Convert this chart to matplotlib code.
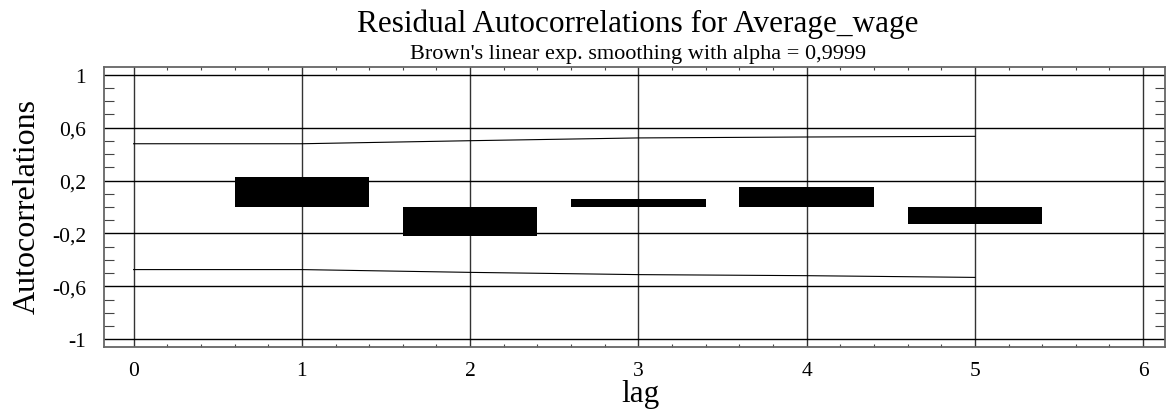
import matplotlib
matplotlib.use("Agg")
import matplotlib.pyplot as plt
from matplotlib.ticker import MultipleLocator, FixedLocator, FuncFormatter

lags = [1, 2, 3, 4, 5]
autocorr = [0.223, -0.218, 0.061, 0.154, -0.132]
limit_lags = [0, 1, 2, 3, 4, 5]
upper_limit = [0.478, 0.478, 0.501, 0.522, 0.529, 0.534]
lower_limit = [-0.473, -0.473, -0.494, -0.511, -0.519, -0.532]
ytick_vals = [-1, -0.6, -0.2, 0.2, 0.6, 1]
xtick_vals = [0, 1, 2, 3, 4, 5, 6]

plt.rcParams['font.family'] = ['Liberation Serif', 'DejaVu Serif']

fig = plt.figure(figsize=(11.66, 4.14), dpi=100)
W, H = 1166, 414
left, right, top, bottom = 104, 1165, 68, 348
ax = fig.add_axes([left / W, 1 - bottom / H, (right - left) / W, (bottom - top) / H])

ax.bar(lags, autocorr, width=0.8, color='black', zorder=3)
ax.plot(limit_lags, upper_limit, color='black', lw=0.8, zorder=2)
ax.plot(limit_lags, lower_limit, color='black', lw=0.8, zorder=2)

ax.set_xlim(-0.176, 6.13)
ax.set_ylim(-1.058, 1.058)

ax.yaxis.set_major_locator(FixedLocator(ytick_vals))
ax.yaxis.set_minor_locator(MultipleLocator(0.1))
ax.xaxis.set_major_locator(FixedLocator(xtick_vals))
ax.xaxis.set_minor_locator(MultipleLocator(0.2))

def fmt(v, pos):
    return ('%g' % round(v, 3)).replace('.', ',')
ax.yaxis.set_major_formatter(FuncFormatter(fmt))

ax.grid(True, which='major', axis='y', color='black', lw=1.0, zorder=1)
ax.grid(True, which='major', axis='x', color='#333333', lw=1.0, zorder=1)
ax.tick_params(which='both', direction='in', top=True, right=True, color='#444444')
ax.tick_params(which='major', length=0, labelsize=15.5)
ax.tick_params(axis='x', which='major', pad=10)
ax.tick_params(axis='y', which='major', pad=13)
ax.tick_params(axis='y', which='minor', length=7.5, width=0.8)
ax.tick_params(axis='x', which='minor', length=2.5, width=0.8)

for sp in ax.spines.values():
    sp.set_color('#666666')
    sp.set_linewidth(1.3)

fig.text(640 / W, 1 - 402 / H, 'lag', ha='center', va='baseline', fontsize=22.5)
fig.text(27 / W, 1 - 207 / H, 'Autocorrelations', ha='center', va='center',
         rotation=90, fontsize=23)

fig.text(638 / W, 1 - 32 / H, 'Residual Autocorrelations for Average_wage',
         ha='center', va='baseline', fontsize=22.5)
fig.text(638 / W, 1 - 59 / H, "Brown's linear exp. smoothing with alpha = 0,9999",
         ha='center', va='baseline', fontsize=16)

fig.savefig('out.png', dpi=100)
